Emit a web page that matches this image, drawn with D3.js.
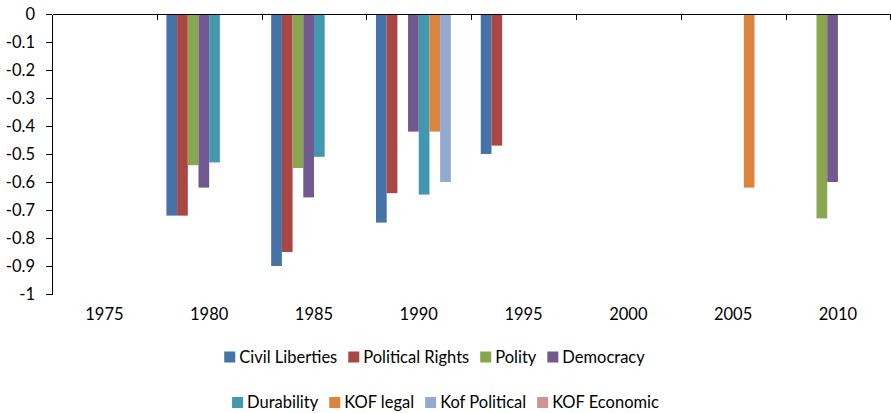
<!DOCTYPE html>
<html lang="en">
<head>
    <meta charset="UTF-8">
    <title>Bar chart</title>
    <script src="https://d3js.org/d3.v7.min.js"></script>
    <style>
        body {
            margin: 0;
            background: #fff;
            font-family: Lato, "Open Sans", sans-serif;
        }
        .axis text {
            font-family: Lato, sans-serif;
            font-size: 16.5px;
            fill: #000;
        }
        .axis path, .axis line {
            stroke: #000;
            shape-rendering: crispEdges;
        }
        .legend text {
            font-size: 16.5px;
            fill: #000;
        }
    </style>
</head>
<body>
    <svg width="891" height="413"></svg>
    <script>
        // categories (5-year periods)
        const years = ["1975", "1980", "1985", "1990", "1995", "2000", "2005", "2010"];

        // series names and colours
        const seriesNames = ["Civil Liberties", "Political Rights", "Polity", "Democracy",
                             "Durability", "KOF legal", "Kof Political", "KOF Economic"];
        const seriesColors = ["#4572A7", "#AA4643", "#89A54E", "#71588F",
                              "#4198AF", "#DB843D", "#93A9CF", "#D19392"];

        // values per series, one per year (null = no bar)
        const civilLiberties   = [null, -0.72, -0.90, -0.745, -0.50, null, null, null];
        const politicalRights  = [null, -0.72, -0.85, -0.64, -0.47, null, null, null];
        const polity           = [null, -0.54, -0.55, null, null, null, null, -0.73];
        const democracy        = [null, -0.62, -0.655, -0.42, null, null, null, -0.60];
        const durability       = [null, -0.53, -0.51, -0.645, null, null, null, null];
        const kofLegal         = [null, null, null, -0.42, null, null, -0.62, null];
        const kofPolitical     = [null, null, null, -0.60, null, null, null, null];
        const kofEconomic      = [null, null, null, null, null, null, null, null];

        // y tick labels
        const yTicks = [0, -0.1, -0.2, -0.3, -0.4, -0.5, -0.6, -0.7, -0.8, -0.9, -1];
        const yTickLabels = ["0", "-0.1", "-0.2", "-0.3", "-0.4", "-0.5", "-0.6", "-0.7", "-0.8", "-0.9", "-1"];

        const allValues = [civilLiberties, politicalRights, polity, democracy,
                           durability, kofLegal, kofPolitical, kofEconomic];

        // flatten into records for drawing
        const bars = [];
        seriesNames.forEach((name, si) => {
            allValues[si].forEach((v, yi) => {
                if (v !== null) bars.push({ series: name, year: years[yi], value: v, color: seriesColors[si] });
            });
        });

        const svg = d3.select("svg");

        // plot area
        const plotLeft = 52, plotRight = 890.3, plotTop = 14, plotBottom = 294;

        const x0 = d3.scaleBand()
            .domain(years)
            .range([plotLeft, plotRight])
            .padding(0);

        const x1 = d3.scaleBand()
            .domain(seriesNames)
            .range([0, x0.bandwidth()])
            .paddingInner(0)
            .paddingOuter(0.9);

        const y = d3.scaleLinear()
            .domain([0, -1])
            .range([plotTop, plotBottom]);

        // bars
        svg.append("g")
            .selectAll("rect")
            .data(bars)
            .enter()
            .append("rect")
            .attr("x", d => x0(d.year) + x1(d.series))
            .attr("y", y(0))
            .attr("width", x1.bandwidth())
            .attr("height", d => y(d.value) - y(0))
            .attr("fill", d => d.color);

        // y axis
        svg.append("g")
            .attr("class", "axis")
            .attr("transform", `translate(${plotLeft},0)`)
            .call(d3.axisLeft(y)
                .tickValues(yTicks)
                .tickFormat((d, i) => yTickLabels[i])
                .tickSize(6)
                .tickPadding(11)
                .tickSizeOuter(0))
            .call(g => g.selectAll("text").attr("dy", "0.36em"));

        // x axis line at zero with tick marks at the category boundaries
        const boundary = d3.scaleLinear()
            .domain([0, years.length])
            .range([plotLeft, plotRight]);

        svg.append("g")
            .attr("class", "axis")
            .attr("transform", `translate(0,${y(0)})`)
            .call(d3.axisBottom(boundary)
                .tickValues(d3.range(1, years.length + 1))
                .tickFormat("")
                .tickSize(6)
                .tickSizeOuter(0));

        // category labels at the bottom
        svg.append("g")
            .attr("class", "axis")
            .attr("transform", `translate(0,${plotBottom + 14})`)
            .call(d3.axisBottom(x0).tickSize(0).tickPadding(0))
            .call(g => g.select(".domain").remove())
            .call(g => g.selectAll("text").attr("dy", "0.71em"));

        // legend, two centred rows
        const legendRows = [
            { items: [0, 1, 2, 3], cx: 434.5, cy: 357 },
            { items: [4, 5, 6, 7], cx: 445.5, cy: 402.5 }
        ];
        const sw = 11, swGap = 4, itemGap = 11;

        const legend = svg.append("g").attr("class", "legend");
        legendRows.forEach(row => {
            const g = legend.append("g");
            let cursor = 0;
            row.items.forEach(si => {
                const item = g.append("g").attr("transform", `translate(${cursor},0)`);
                item.append("rect")
                    .attr("x", 0)
                    .attr("y", row.cy - sw / 2)
                    .attr("width", sw)
                    .attr("height", sw)
                    .attr("fill", seriesColors[si]);
                const t = item.append("text")
                    .attr("x", sw + swGap)
                    .attr("y", row.cy)
                    .attr("dy", "0.36em")
                    .text(seriesNames[si]);
                cursor += sw + swGap + t.node().getComputedTextLength() + itemGap;
            });
            const total = cursor - itemGap;
            g.attr("transform", `translate(${row.cx - total / 2},0)`);
        });
    </script>
</body>
</html>
